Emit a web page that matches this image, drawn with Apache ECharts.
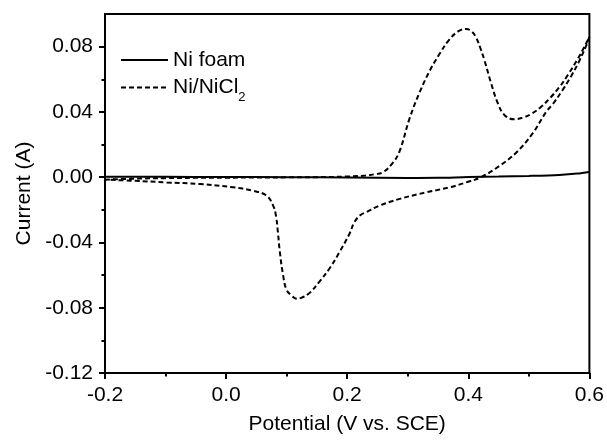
<!DOCTYPE html>
<html>
<head>
<meta charset="utf-8">
<script src="https://cdn.jsdelivr.net/npm/echarts@6/dist/echarts.min.js"></script>
<style>
  html, body { margin: 0; padding: 0; background: #fff; }
  #chart { width: 607px; height: 440px; }
</style>
</head>
<body>
<div id="chart"></div>
<script>
// Cyclic voltammograms: potential (V vs. SCE) and current (A), in scan order.
const potentialNiFoam = [-0.2, -0.1, 0.0, 0.1, 0.2, 0.3, 0.35, 0.4, 0.45, 0.5, 0.55, 0.58, 0.6];
const currentNiFoam   = [0.0003, 0.0002, 0.0001, 0.0, -0.0002, -0.0005, -0.0004, 0.0001, 0.0004, 0.0008, 0.0014, 0.0022, 0.0032];

const potentialNiNiCl2 = [
  // anodic sweep
  -0.2, -0.15, -0.1, -0.05, 0.0, 0.05, 0.1, 0.15, 0.2, 0.23, 0.245, 0.259, 0.2756, 0.2866, 0.303, 0.3196,
  0.336, 0.3526, 0.369, 0.384, 0.3966, 0.405, 0.413, 0.42, 0.4268, 0.4378, 0.4488, 0.46, 0.476, 0.49,
  0.505, 0.52, 0.535, 0.55, 0.565, 0.58, 0.592, 0.6,
  // cathodic sweep
  0.594, 0.583, 0.57, 0.555, 0.54, 0.5286, 0.5065, 0.479, 0.4515, 0.421, 0.3966, 0.369, 0.3306, 0.2866,
  0.2536, 0.2317, 0.222, 0.212, 0.204, 0.1876, 0.171, 0.1546, 0.138, 0.125, 0.117, 0.108, 0.0997, 0.094,
  0.0887, 0.0855, 0.0825, 0.0777, 0.0668, 0.0446, 0.0116, -0.0433, -0.098, -0.153, -0.2
];
const currentNiNiCl2 = [
  -0.0015, -0.0009, -0.0006, -0.0004, -0.0003, -0.0002, -0.0001, 0.0, 0.0004, 0.0010, 0.0018, 0.0030, 0.0089, 0.016, 0.036, 0.052,
  0.065, 0.0756, 0.0845, 0.0895, 0.0908, 0.0895, 0.0855, 0.079, 0.0715, 0.0574, 0.0453, 0.038, 0.0355, 0.0365,
  0.039, 0.043, 0.0485, 0.055, 0.063, 0.072, 0.080, 0.086,
  0.080, 0.071, 0.062, 0.053, 0.045, 0.040, 0.027, 0.015, 0.0069, 0.0, -0.0032, -0.0062, -0.0093, -0.0133,
  -0.0174, -0.0214, -0.0232, -0.0275, -0.0345, -0.0457, -0.0558, -0.0638, -0.0709, -0.0738, -0.0745, -0.0725, -0.0689, -0.0598,
  -0.0457, -0.0335, -0.024, -0.0174, -0.0113, -0.0083, -0.0062, -0.0042, -0.0032, -0.0022, -0.0015
];

const yLabelValues = [-0.12, -0.08, -0.04, 0.0, 0.04, 0.08];
const yMinorValues = [-0.10, -0.06, -0.02, 0.02, 0.06];

const FONT = '"Liberation Sans", Arial, Helvetica, sans-serif';
const pairs = (xs, ys) => xs.map((x, i) => [x, ys[i]]);

const chart = echarts.init(document.getElementById('chart'), null, { renderer: 'canvas' });

const axisLine = { show: true, onZero: false, lineStyle: { color: '#000', width: 2 } };

chart.setOption({
  animation: false,
  backgroundColor: '#fff',
  textStyle: { fontFamily: FONT, color: '#000' },
  grid: {
    left: 105, right: 17, top: 14, bottom: 65,
    show: true, borderColor: '#000', borderWidth: 2, backgroundColor: 'transparent'
  },
  legend: {
    orient: 'vertical',
    left: 120, top: 49, padding: 0,
    itemWidth: 47, itemHeight: 14, itemGap: 0,
    // line-only keys: hide the marker a line series draws in its key
    itemStyle: { opacity: 0 },
    textStyle: {
      fontFamily: FONT, fontSize: 21, color: '#000', lineHeight: 22,
      rich: {
        sub: { fontFamily: FONT, fontSize: 13, color: '#000', lineHeight: 13, padding: [20, 0, 0, 0] }
      }
    },
    formatter: name => name === 'Ni/NiCl2' ? 'Ni/NiCl{sub|2}' : name,
    data: ['Ni foam', 'Ni/NiCl2']
  },
  xAxis: {
    type: 'value',
    min: -0.2, max: 0.6, interval: 0.2,
    name: 'Potential (V vs. SCE)',
    nameLocation: 'middle', nameGap: 41,
    nameTextStyle: { fontFamily: FONT, fontSize: 21, color: '#000' },
    axisLine: axisLine,
    axisTick: { show: true, inside: false, length: 6, lineStyle: { color: '#000', width: 2 } },
    minorTick: { show: true, splitNumber: 2, length: 3.5, lineStyle: { color: '#000', width: 2 } },
    axisLabel: { fontFamily: FONT, fontSize: 21, color: '#000', margin: 12, formatter: v => v.toFixed(1) },
    splitLine: { show: false }
  },
  yAxis: [
    {
      type: 'value',
      position: 'left',
      min: -0.12, max: 0.10, interval: 0.02,
      name: 'Current (A)',
      nameLocation: 'middle', nameGap: 70,
      nameTextStyle: { fontFamily: FONT, fontSize: 21, color: '#000' },
      axisLine: axisLine,
      axisTick: { show: true, length: 6, customValues: yLabelValues, lineStyle: { color: '#000', width: 2 } },
      axisLabel: { fontFamily: FONT, fontSize: 21, color: '#000', margin: 12, customValues: yLabelValues,
                   formatter: v => v.toFixed(2) },
      splitLine: { show: false }
    },
    {
      // minor ticks of the current axis
      type: 'value',
      position: 'left', offset: 0,
      min: -0.12, max: 0.10, interval: 0.02,
      axisLine: { show: false, onZero: false },
      axisTick: { show: true, length: 3.5, customValues: yMinorValues, lineStyle: { color: '#000', width: 2 } },
      axisLabel: { show: false },
      splitLine: { show: false }
    }
  ],
  series: [
    {
      name: 'Ni foam',
      type: 'line',
      data: pairs(potentialNiFoam, currentNiFoam),
      showSymbol: false, symbol: 'none',
      smooth: 0.3,
      lineStyle: { color: '#000', width: 2, type: 'solid' },
      itemStyle: { color: '#000' },
      z: 3
    },
    {
      name: 'Ni/NiCl2',
      type: 'line',
      data: pairs(potentialNiNiCl2, currentNiNiCl2),
      showSymbol: false, symbol: 'none',
      smooth: 0.4,
      lineStyle: { color: '#000', width: 2, type: [5, 3] },
      itemStyle: { color: '#000' },
      z: 2
    }
  ]
});
</script>
</body>
</html>
